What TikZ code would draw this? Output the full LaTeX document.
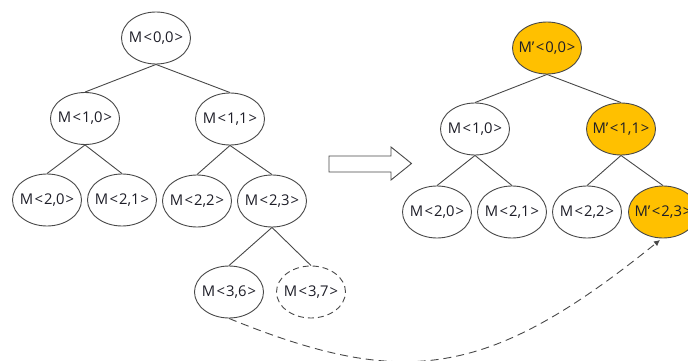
\documentclass[tikz,border=0pt]{standalone}
\usepackage{fontspec}
\setmainfont{Open Sans}
\usetikzlibrary{shapes.geometric,arrows.meta}
\definecolor{lc}{HTML}{484848}
\definecolor{gold}{HTML}{FFC000}
\definecolor{tc}{HTML}{1E1E28}
\newcommand{\mlab}[2]{\makebox[0pt][c]{#1\kern1.5pt<\kern1pt#2\kern1pt>}}
\tikzset{
  tn/.style={ellipse,draw=lc,line width=0.9pt,minimum width=69pt,minimum height=52pt,inner sep=0pt,
    font=\fontsize{14.8}{16}\selectfont,text=tc,fill=white},
  hl/.style={tn,fill=gold},
  ghost/.style={tn,dash pattern=on 6pt off 4pt},
  edge/.style={draw=lc,line width=0.9pt},
  link/.style={draw=lc,line width=0.9pt,dash pattern=on 8pt off 5pt,-{Latex[length=6pt,width=6pt]}},
  bigarrow/.style={draw=lc,line width=0.9pt,fill=white}
}
\begin{document}
\begin{tikzpicture}[x=1pt,y=-1pt]
\useasboundingbox (0,0) rectangle (688,361);
\clip (0,0) rectangle (688,361);
% left tree
\node[tn] (a00) at (156,38) {\mlab{M}{0,0}};
\node[tn] (a10) at (85,118.5) {\mlab{M}{1,0}};
\node[tn] (a11) at (230,119) {\mlab{M}{1,1}};
\node[tn] (a20) at (47,200) {\mlab{M}{2,0}};
\node[tn] (a21) at (122,200) {\mlab{M}{2,1}};
\node[tn] (a22) at (197,201) {\mlab{M}{2,2}};
\node[tn] (a23) at (272,201) {\mlab{M}{2,3}};
\node[tn] (a36) at (229,292) {\mlab{M}{3,6}};
\node[ghost] (a37) at (311,292) {\mlab{M}{3,7}};
\foreach \p/\c in {a00/a10,a00/a11,a10/a20,a10/a21,a11/a22,a11/a23,a23/a36,a23/a37}
  \path[edge] (\p.south) -- (\c.north);
% right tree
\node[hl] (b00) at (547,48) {\mlab{M'}{0,0}};
\node[tn] (b10) at (475,129) {\mlab{M}{1,0}};
\node[hl] (b11) at (621,129) {\mlab{M'}{1,1}};
\node[tn] (b20) at (437,212) {\mlab{M}{2,0}};
\node[tn] (b21) at (512,212) {\mlab{M}{2,1}};
\node[tn] (b22) at (587,212) {\mlab{M}{2,2}};
\node[hl] (b23) at (663,212) {\mlab{M'}{2,3}};
\foreach \p/\c in {b00/b10,b00/b11,b10/b20,b10/b21,b11/b22,b11/b23}
  \path[edge] (\p.south) -- (\c.north);
% block arrow
\path[bigarrow] (329,156) -- (391,156) -- (391,147) -- (411.5,163.5) -- (391,180) -- (391,172) -- (329,172) -- cycle;
% dashed link
\coordinate (tip) at (660,240);
\path[link] (a36.south) .. controls (405,390) and (489,378) .. (tip);
\end{tikzpicture}
\end{document}
